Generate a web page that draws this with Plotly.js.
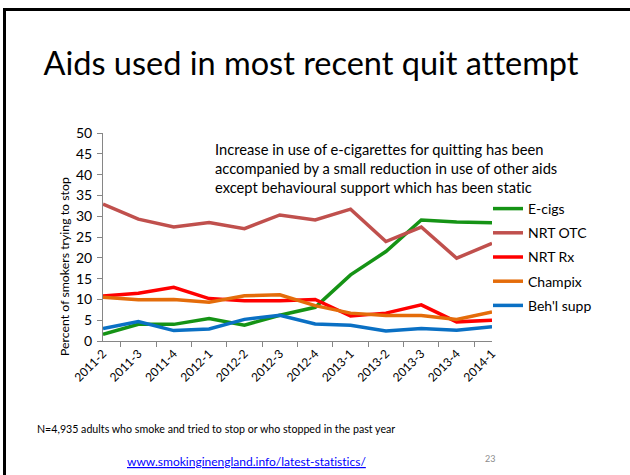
<!DOCTYPE html>
<html>
<head>
<meta charset="utf-8">
<script src="https://cdn.plot.ly/plotly-3.0.1.min.js"></script>
<style>
  html, body { margin: 0; padding: 0; background: #fff; }
  #frame { position: absolute; left: 3px; top: 8px; width: 640px; height: 480px;
           border-top: 3px solid #000; border-left: 3px solid #000; pointer-events: none; }
  #chart { width: 630px; height: 475px; }
  text { font-variant-ligatures: none; font-feature-settings: "liga" 0; }
</style>
</head>
<body>
<div id="chart"></div>
<div id="frame"></div>
<script>
const quarters = ["2011-2","2011-3","2011-4","2012-1","2012-2","2012-3","2012-4","2013-1","2013-2","2013-3","2013-4","2014-1"];
const eCigs    = [1.6, 4.0, 4.0, 5.4, 3.8, 6.2, 8.1, 15.9, 21.5, 29.1, 28.6, 28.4];
const nrtOtc   = [32.9, 29.3, 27.4, 28.5, 27.0, 30.3, 29.1, 31.7, 23.9, 27.4, 19.9, 23.5];
const nrtRx    = [10.8, 11.5, 12.9, 10.2, 9.7, 9.7, 10.0, 6.0, 6.7, 8.7, 4.6, 5.0];
const champix  = [10.5, 9.9, 10.0, 9.3, 10.9, 11.1, 8.5, 6.7, 6.1, 6.1, 5.2, 7.0];
const behlSupp = [3.0, 4.7, 2.5, 2.9, 5.2, 6.2, 4.1, 3.8, 2.4, 3.0, 2.6, 3.4];
const seriesNames = ["E-cigs","NRT OTC","NRT Rx","Champix","Beh'l supp"];
const seriesValues = [eCigs, nrtOtc, nrtRx, champix, behlSupp];
const seriesColors = ["#159315","#C0504D","#FF0000","#E46C0A","#0A70C4"];
const yTicks = [0,5,10,15,20,25,30,35,40,45,50];

const W = 630, H = 475, L = 103, R = 138, T = 133, B = 134;
const pw = W - L - R, ph = H - T - B;
const px = x => (x - L) / pw;
const py = y => (H - B - y) / ph;

const font = "Lato, 'Open Sans', sans-serif";

const traces = seriesNames.map((n, i) => ({
  type: "scatter", mode: "lines", name: n, x: quarters, y: seriesValues[i],
  line: { color: seriesColors[i], width: 3.5 }, legendgroup: "g" + i
}));

const layout = {
  width: W, height: H,
  margin: { l: L, r: R, t: T, b: B },
  paper_bgcolor: "#fff", plot_bgcolor: "#fff",
  font: { family: font, color: "#000" },
  showlegend: true,
  title: { text: "Aids used in most recent quit attempt", font: { family: font, size: 32.5, color: "#000" },
           x: 311 / W, xanchor: "center", xref: "container", y: 1 - 64 / H, yanchor: "middle", yref: "container" },
  legend: { x: px(488), y: py(193), xanchor: "left", yanchor: "top", font: { family: font, size: 14, color: "#000" },
            tracegroupgap: 3, bgcolor: "rgba(0,0,0,0)" },
  xaxis: { type: "category", tickangle: -45, tickfont: { family: font, size: 12, color: "#000" },
           showline: true, linecolor: "#868686", linewidth: 1, ticks: "outside", ticklen: 5, tickcolor: "#868686",
           tickson: "boundaries", showgrid: false, zeroline: false, fixedrange: true },
  yaxis: { range: [0, 50], tickvals: yTicks, tickfont: { family: font, size: 14, color: "#000" },
           showline: true, linecolor: "#868686", linewidth: 1, ticks: "outside", ticklen: 5, tickcolor: "#868686",
           showgrid: false, zeroline: false, ticklabelstandoff: 2 },
  annotations: [
    { text: "Percent of smokers trying to stop", textangle: -90, xref: "paper", yref: "paper",
      x: px(64), y: py(267), xanchor: "center", yanchor: "middle", showarrow: false,
      font: { family: font, size: 12.3, color: "#000" } },
    { text: "Increase in use of e-cigarettes for quitting has been<br>accompanied by a small reduction in use of other aids<br>except behavioural support which has been static",
      xref: "paper", yref: "paper", x: px(213), y: py(138), xanchor: "left", yanchor: "top", align: "left",
      showarrow: false, font: { family: font, size: 14.7, color: "#000" } },
    { text: "N=4,935 adults who smoke and tried to stop or who stopped in the past year",
      xref: "paper", yref: "paper", x: px(35), y: py(428), xanchor: "left", yanchor: "middle",
      showarrow: false, font: { family: font, size: 10.65, color: "#000" } },
    { text: "<u>www.smokinginengland.info/latest-statistics/</u>",
      xref: "paper", yref: "paper", x: px(246), y: py(461), xanchor: "center", yanchor: "middle",
      showarrow: false, font: { family: font, size: 12, color: "#0000FF" } },
    { text: "23", xref: "paper", yref: "paper", x: px(490), y: py(458), xanchor: "center", yanchor: "middle",
      showarrow: false, font: { family: font, size: 9, color: "#8C8C8C" } }
  ]
};

Plotly.newPlot("chart", traces, layout, { displayModeBar: false, staticPlot: true });
</script>
</body>
</html>
